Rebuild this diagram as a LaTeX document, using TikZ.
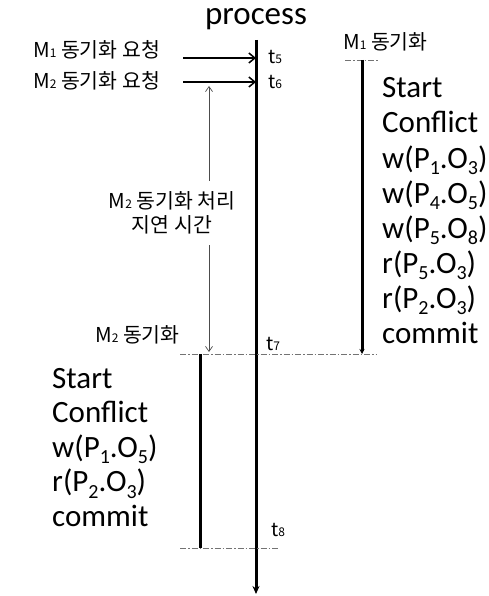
\documentclass[tikz,border=0pt]{standalone}
\usepackage{fontspec}
\setmainfont{Carlito}
\newfontfamily\kr{Noto Sans CJK KR}
\usetikzlibrary{arrows.meta}
\newcommand\smd[1]{{\fontsize{12}{12}\selectfont #1}}
\newcommand\bsb[1]{\raisebox{-0.22em}{\fontsize{20}{20}\selectfont #1}}
\tikzset{
  lbl/.style={inner sep=0pt, anchor=west, font=\kr\fontsize{20.5}{24}\selectfont},
  tl/.style={inner sep=0pt, anchor=west, font=\kr\fontsize{19}{22}\selectfont},
  big/.style={inner sep=0pt, anchor=base west, font=\fontsize{31}{35}\selectfont},
  mainline/.style={line width=3pt, -{Stealth[length=8pt,width=7pt]}},
  reqarrow/.style={line width=1.8pt, -{Straight Barb[length=6pt,width=10pt,line width=1.5pt]}},
  syncline/.style={line width=3pt},
  delayarrow/.style={line width=0.7pt, black!70, -{Straight Barb[length=5pt,width=7pt,line width=0.7pt]}},
  dotline/.style={line width=0.8pt, black!55, dash pattern=on 6pt off 2pt on 1.5pt off 2pt},
}
\begin{document}
\begin{tikzpicture}[x=1pt,y=-1pt]
\useasboundingbox (0,0) rectangle (488,596);
% process line
\node[inner sep=0pt, anchor=base, font=\fontsize{33}{36}\selectfont] (proc) at (256,25) {process};
\coordinate (ptop) at (256,40);
\coordinate (pbot) at (256,594);
\draw[mainline] (ptop) -- (pbot);
% requests
\node[lbl] (r1) at (33,50) {M\smd{1} 동기화 요청};
\node[lbl] (r2) at (33,81) {M\smd{2} 동기화 요청};
\coordinate (a1) at (183,58);
\coordinate (a2) at (183,82);
\draw[reqarrow] (a1) -- (a1 -| ptop);
\draw[reqarrow] (a2) -- (a2 -| ptop);
\node[tl] (t5) at (268,57) {t\smd{5}};
\node[tl] (t6) at (268,82) {t\smd{6}};
% M1 sync
\node[lbl] (m1s) at (343,42) {M\smd{1} 동기화};
\coordinate (m1top) at (362,60);
\coordinate (m1bot) at (362,354);
\coordinate (m1dl) at (345,60);
\coordinate (m1dr) at (379,60);
\draw[dotline] (m1dl) -- (m1dr);
\draw[syncline, -{Stealth[length=5pt,width=5pt]}] (m1top) -- (m1bot);
\node[big] (ra) at (382,98) {Start};
\node[big] (rb) at (382,133) {Conflict};
\node[big] (rc) at (382,168) {w(P\bsb{1}.O\bsb{3})};
\node[big] (rd) at (382,203) {w(P\bsb{4}.O\bsb{5})};
\node[big] (re) at (382,238) {w(P\bsb{5}.O\bsb{8})};
\node[big] (rf) at (382,273) {r(P\bsb{5}.O\bsb{3})};
\node[big] (rg) at (382,308) {r(P\bsb{2}.O\bsb{3})};
\node[big] (rh) at (382,343) {commit};
% t7 line
\coordinate (d7l) at (180,354);
\coordinate (d7r) at (376,354);
\draw[dotline] (d7l) -- (d7r);
\node[tl] (t7) at (266,344) {t\smd{7}};
% delay
\node[inner xsep=0pt, inner ysep=11pt, align=center, font=\kr\fontsize{20.5}{24}\selectfont] (dl) at (172,213) {M\smd{2} 동기화 처리\\지연 시간};
\coordinate (dtop) at (209,86);
\coordinate (dbot) at (209,352);
\draw[delayarrow] (dtop |- dl.north) -- (dtop);
\draw[delayarrow] (dbot |- dl.south) -- (dbot);
\node[lbl] (m2s) at (95,335) {M\smd{2} 동기화};
% M2 sync
\coordinate (m2top) at (200,354);
\coordinate (m2bot) at (200,548);
\draw[syncline] (m2top) -- (m2bot);
\coordinate (d8l) at (180,548);
\coordinate (d8r) at (278,548);
\draw[dotline] (d8l) -- (d8r);
\node[tl] (t8) at (271,530) {t\smd{8}};
\node[big] (la) at (52,388) {Start};
\node[big] (lb) at (52,422.5) {Conflict};
\node[big] (lc) at (52,457) {w(P\bsb{1}.O\bsb{5})};
\node[big] (ld) at (52,491.5) {r(P\bsb{2}.O\bsb{3})};
\node[big] (le) at (52,526) {commit};
\end{tikzpicture}
\end{document}
